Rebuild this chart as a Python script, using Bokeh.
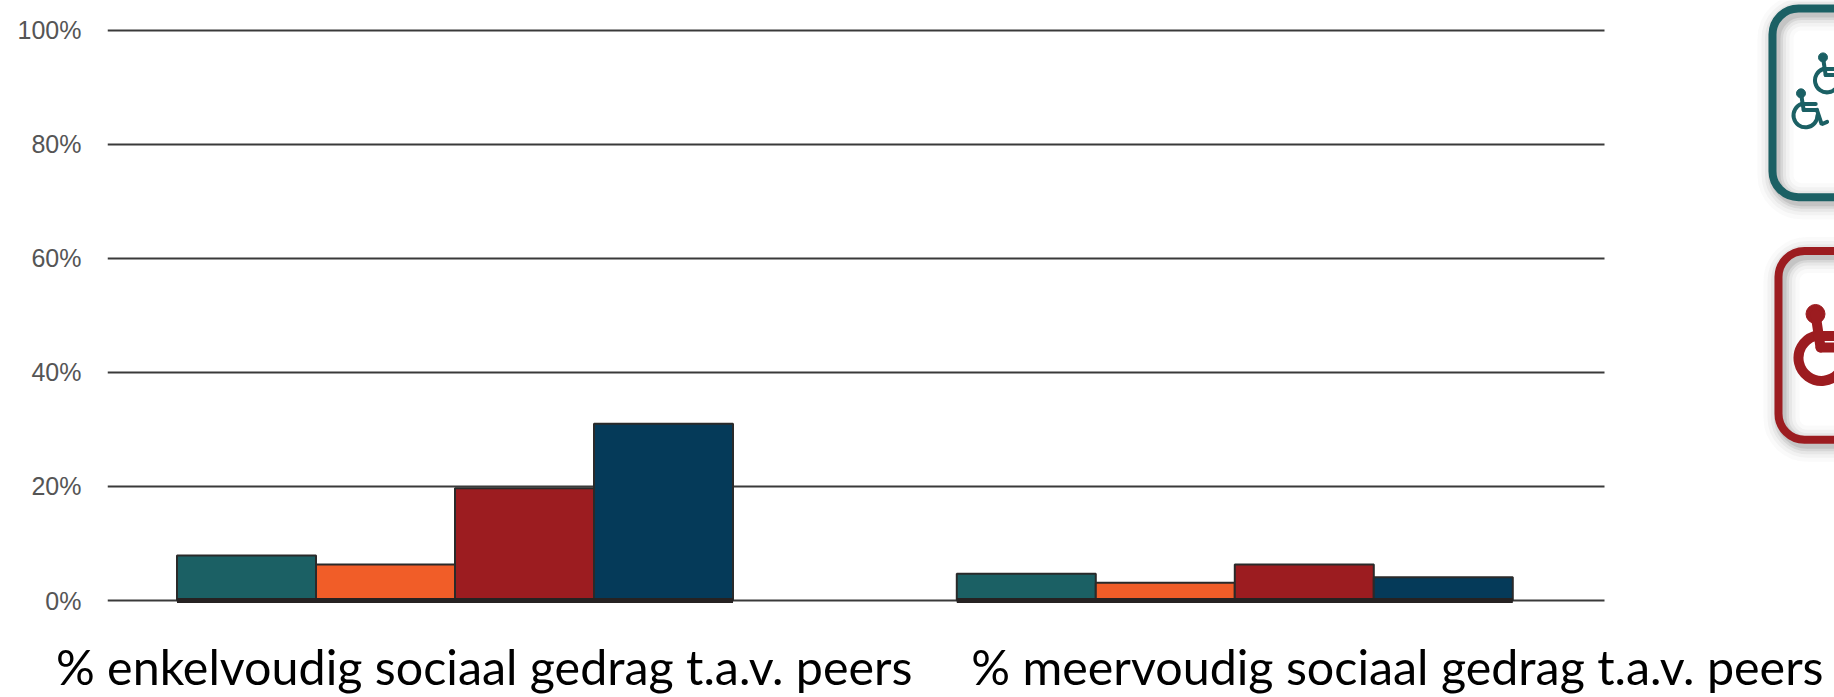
from bokeh.plotting import figure
from bokeh.models import Range1d, FixedTicker, PrintfTickFormatter
from bokeh.embed import file_html
from bokeh.resources import INLINE

categories = ["% enkelvoudig sociaal gedrag t.a.v. peers", "% meervoudig sociaal gedrag t.a.v. peers"]
teal_values = [7.9, 4.7]
orange_values = [6.3, 3.1]
red_values = [19.7, 6.3]
navy_values = [31.0, 4.1]
series_colors = ["#1b6064", "#f15d28", "#9c1c20", "#053a59"]
y_ticks = [0, 20, 40, 60, 80, 100]

group_starts = [0.5, 6.11]     # in bar widths from the start of the plot
label_centres = [2.71, 9.28]

PX = 139.0                      # one bar width in pixels
PY = 5.71                       # one percent in pixels
FRAME_LEFT, FRAME_TOP, ZERO_Y, FRAME_BOTTOM = 107, 0, 601, 607
GRID_END = (1604 - FRAME_LEFT) / PX

p = figure(width=1834, height=697, output_backend="svg", toolbar_location=None,
           x_range=Range1d(0, (1834 - FRAME_LEFT) / PX),
           y_range=Range1d((ZERO_Y - FRAME_BOTTOM) / PY, (ZERO_Y - FRAME_TOP) / PY),
           min_border_left=FRAME_LEFT, min_border_right=0, min_border_top=0,
           min_border_bottom=697 - FRAME_BOTTOM, outline_line_color=None, background_fill_color="white")
p.extra_x_ranges["px"] = Range1d(FRAME_LEFT, 1834)
p.extra_y_ranges["px"] = Range1d(FRAME_BOTTOM, FRAME_TOP)

p.xgrid.visible = False
p.ygrid.visible = False
p.segment(x0=[0] * len(y_ticks), x1=[GRID_END] * len(y_ticks), y0=y_ticks, y1=y_ticks,
          line_color="#3a3a3a", line_width=2)

p.yaxis.ticker = FixedTicker(ticks=y_ticks)
p.yaxis.formatter = PrintfTickFormatter(format="%d%%")
p.yaxis.axis_line_color = None
p.yaxis.major_tick_line_color = None
p.yaxis.minor_tick_line_color = None
p.yaxis.major_label_standoff = 20
p.yaxis.major_label_text_font = "Liberation Sans"
p.yaxis.major_label_text_font_size = "25px"
p.yaxis.major_label_text_color = "#555555"

p.xaxis.ticker = FixedTicker(ticks=label_centres)
p.xaxis.major_label_overrides = dict(zip(label_centres, categories))
p.xaxis.axis_line_color = None
p.xaxis.major_tick_line_color = None
p.xaxis.minor_tick_line_color = None
p.xaxis.major_label_standoff = 24
p.xaxis.major_label_text_font = "Lato"
p.xaxis.major_label_text_font_size = "48.4px"
p.xaxis.major_label_text_color = "#000000"

all_series = [teal_values, orange_values, red_values, navy_values]
for i, (vals, col) in enumerate(zip(all_series, series_colors)):
    p.quad(left=[g + i for g in group_starts], right=[g + i + 1 for g in group_starts],
           bottom=[0, 0], top=vals, fill_color=col, line_color="#2a2a2a", line_width=2)
# the heavier foot of the bars
p.segment(x0=group_starts, x1=[g + 4 for g in group_starts], y0=[0, 0], y1=[0, 0],
          line_color="#262222", line_width=5)

# decorative rounded boxes with the wheelchair icons, in page pixels
def box(left, top, bottom, colour):
    for w, a in [(36, 0.03), (28, 0.05), (21, 0.08), (15, 0.12), (10, 0.16)]:
        p.quad(left=[left + 3], right=[1900], top=[top + 4], bottom=[bottom + 4], fill_color=None,
               line_color="#666666", line_alpha=a, line_width=w, border_radius=26,
               x_range_name="px", y_range_name="px")
    p.quad(left=[left], right=[1900], top=[top], bottom=[bottom], fill_color=None,
           line_color=colour, line_width=8, border_radius=26, x_range_name="px", y_range_name="px")

def icon(hx, hy, wx, wy, s, colour, lw, head):
    kw = dict(x_range_name="px", y_range_name="px", line_color=colour, line_width=lw, line_cap="round")
    p.scatter([hx], [hy], size=head, marker="circle", fill_color=colour, line_color=colour,
              x_range_name="px", y_range_name="px")
    p.arc([wx], [wy], radius=s, start_angle=1.9, end_angle=0.0, direction="anticlock", **kw)
    p.line([hx, hx + 0.22 * s], [hy, wy - 0.45 * s], **kw)
    p.line([hx + 0.22 * s, wx + 0.95 * s], [wy - 0.45 * s, wy - 0.45 * s], **kw)
    p.line([hx + 0.12 * s, wx + 0.85 * s], [wy - 0.95 * s, wy - 0.95 * s], **kw)
    p.line([wx + 0.95 * s, wx + 1.35 * s, wx + 1.8 * s], [wy - 0.45 * s, wy + 0.75 * s, wy + 0.55 * s], **kw)

box(1772, 8, 197, "#1b6064")
box(1778, 251, 440, "#9c1c20")
icon(1800.5, 93, 1805, 115, 12, "#1b6064", 4, 9)
icon(1822.5, 57, 1826.5, 80, 12, "#1b6064", 4, 9)
icon(1815, 314, 1821, 358, 23, "#9c1c20", 10, 19)

open("out.html", "w").write(file_html(p, INLINE))
